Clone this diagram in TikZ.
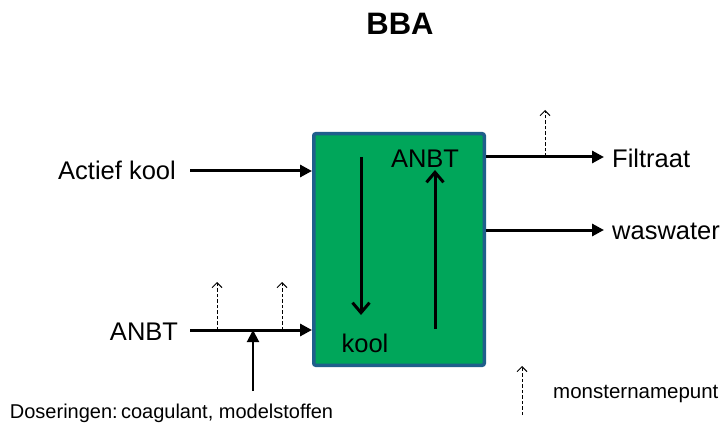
\documentclass[tikz,border=0pt]{standalone}
\usepackage{fontspec}
\setmainfont{Liberation Sans}
\usetikzlibrary{arrows.meta}
\definecolor{boxgreen}{RGB}{0,166,90}
\definecolor{boxblue}{RGB}{31,95,139}
\begin{document}
\begin{tikzpicture}[x=1pt,y=-1pt,
 flow/.style={line width=3pt,-{Triangle[length=12pt,width=12pt]}},
 thinflow/.style={line width=2pt,-{Triangle[length=12pt,width=12pt]}},
 inner/.style={line width=3pt,-{Straight Barb[length=10pt,width=17pt,line width=3pt]}},
 sample/.style={line width=1pt,dash pattern=on 3.5pt off 2pt,-{Straight Barb[length=5pt,width=10pt,line width=1pt]}},
 lbl/.style={font=\fontsize{25.5}{30}\selectfont,inner sep=0pt,anchor=base},
 small/.style={font=\fontsize{20.5}{24}\selectfont,inner sep=0pt,anchor=base}]
\path[fill=white] (0,0) rectangle (725,421);
\node[draw=boxblue,fill=boxgreen,line width=3.5pt,rounded corners=2pt,minimum width=170.5pt,minimum height=231.5pt,inner sep=0pt] (box) at (399,249.5) {};
\node[font=\bfseries\fontsize{31}{37}\selectfont,inner sep=0pt,anchor=base] (title) at (400,35) {BBA};
% inputs
\node[lbl] (ak) at (117,180) {Actief kool};
\coordinate (akstart) at (190,171);
\draw[flow] (akstart) -- (akstart -| box.west);
\node[lbl] (anbtin) at (144,340) {ANBT};
\coordinate (anbtstart) at (190,330);
\draw[flow] (anbtstart) -- (anbtstart -| box.west);
\coordinate (s1) at (217,330);
\coordinate (s1t) at (217,282);
\coordinate (s2) at (282,330);
\coordinate (s2t) at (282,282);
\draw[sample] (s1) -- (s1t);
\draw[sample] (s2) -- (s2t);
\coordinate (dosb) at (253,391);
\coordinate (dost) at (253,330);
\draw[thinflow] (dosb) -- (dost);
\node[small,font=\fontsize{20}{24}\selectfont] (dos) at (171.5,418) {Doseringen:\,coagulant, modelstoffen};
% inside
\node[lbl] (anbtbox) at (425,168) {ANBT};
\node[lbl] (kool) at (365,352) {kool};
\coordinate (dtop) at (361,157);
\coordinate (dbot) at (361,315);
\draw[inner] (dtop) -- (dbot);
\coordinate (ubot) at (435,329);
\coordinate (utop) at (435,170);
\draw[inner] (ubot) -- (utop);
% outputs
\coordinate (filend) at (604,157);
\draw[flow] (filend -| box.east) -- (filend);
\node[lbl,anchor=base west] (fil) at (612,168) {Filtraat};
\coordinate (s3) at (545,157);
\coordinate (s3t) at (545,110);
\draw[sample] (s3) -- (s3t);
\coordinate (wasend) at (604,230);
\draw[flow] (wasend -| box.east) -- (wasend);
\node[lbl,anchor=base west] (was) at (612,239) {waswater};
% legend
\coordinate (lb) at (522,415);
\coordinate (lt) at (522,366);
\draw[sample] (lb) -- (lt);
\node[small,anchor=base west] (leg) at (553,398) {monsternamepunt};
\end{tikzpicture}
\end{document}
